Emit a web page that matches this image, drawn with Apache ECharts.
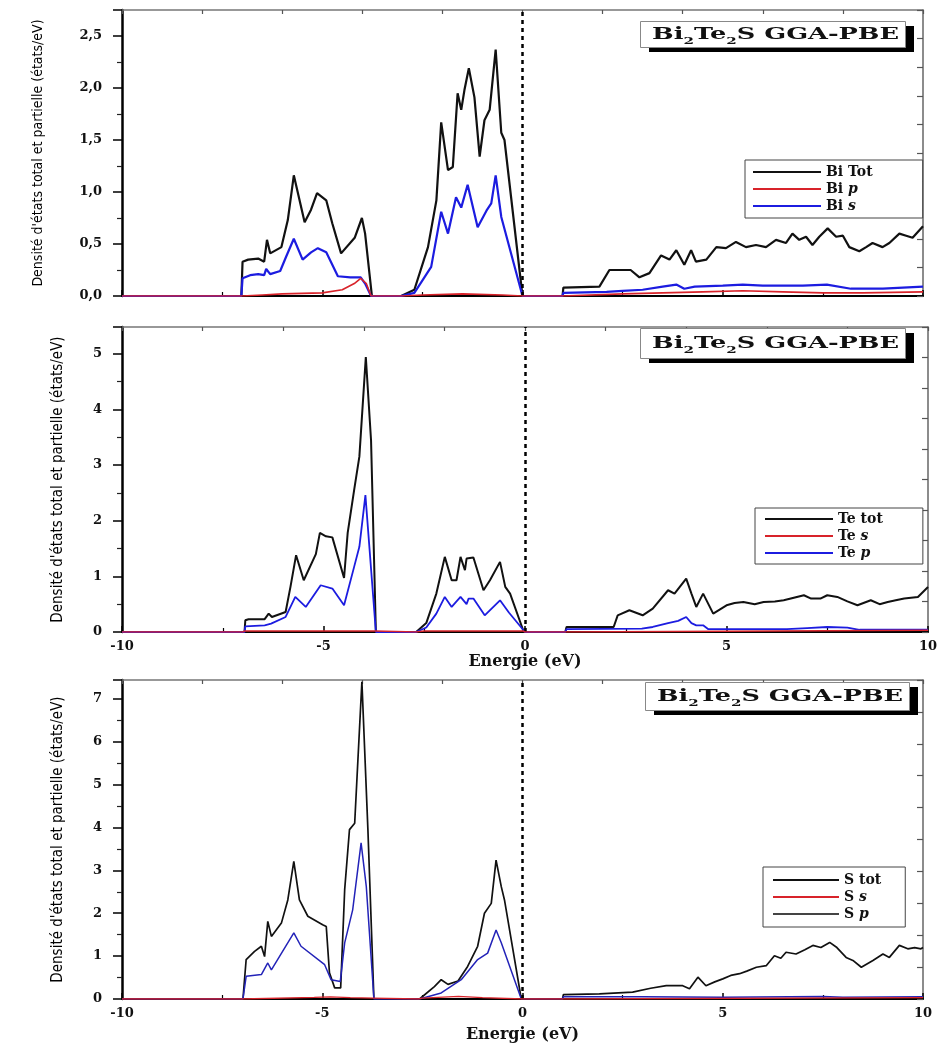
<!DOCTYPE html>
<html><head><meta charset="utf-8">
<script src="https://cdn.jsdelivr.net/npm/echarts@6/dist/echarts.min.js"></script>
<style>html,body{margin:0;padding:0;background:#fff}#c{width:945px;height:1045px}</style>
</head><body><div id="c"></div>
<script>
// ---------- data (energy in eV, DOS in states/eV) ----------
const biTot = [[-10,0],[-7.02,0],[-6.99,0.33],[-6.85,0.35],[-6.6,0.36],[-6.45,0.33],[-6.38,0.54],[-6.3,0.41],[-6.02,0.47],[-5.86,0.73],[-5.71,1.16],[-5.44,0.71],[-5.28,0.83],[-5.13,0.99],[-4.9,0.92],[-4.75,0.7],[-4.53,0.41],[-4.19,0.56],[-4.01,0.75],[-3.93,0.6],[-3.76,0],[-3.03,0],[-2.7,0.06],[-2.36,0.47],[-2.15,0.92],[-2.03,1.67],[-1.86,1.21],[-1.74,1.24],[-1.62,1.95],[-1.53,1.79],[-1.45,1.98],[-1.34,2.19],[-1.2,1.91],[-1.07,1.34],[-0.95,1.69],[-0.82,1.79],[-0.67,2.37],[-0.53,1.57],[-0.45,1.5],[0,0],[1.0,0],[1.02,0.08],[1.92,0.09],[2.17,0.25],[2.7,0.25],[2.92,0.18],[3.17,0.22],[3.46,0.39],[3.67,0.35],[3.84,0.44],[4.04,0.3],[4.21,0.44],[4.33,0.33],[4.59,0.35],[4.84,0.47],[5.08,0.46],[5.33,0.52],[5.58,0.47],[5.83,0.49],[6.08,0.47],[6.33,0.54],[6.58,0.51],[6.74,0.6],[6.91,0.54],[7.08,0.57],[7.24,0.49],[7.41,0.57],[7.62,0.65],[7.83,0.57],[8.0,0.58],[8.16,0.47],[8.41,0.43],[8.58,0.47],[8.74,0.51],[8.99,0.47],[9.16,0.51],[9.41,0.6],[9.58,0.58],[9.74,0.56],[10,0.67]];
const biP = [[-10,0],[-7.0,0],[-6.5,0.01],[-6.0,0.02],[-5.0,0.03],[-4.5,0.06],[-4.2,0.12],[-4.04,0.17],[-3.9,0.12],[-3.78,0],[-3.0,0],[-2.5,0.01],[-1.5,0.02],[-0.5,0.01],[0,0],[1.0,0],[1.02,0.01],[2.5,0.02],[3.5,0.03],[4.5,0.04],[5.5,0.05],[6.5,0.04],[7.5,0.03],[8.5,0.03],[10,0.04]];
const biS = [[-10,0],[-7.02,0],[-6.99,0.17],[-6.8,0.2],[-6.6,0.21],[-6.45,0.2],[-6.4,0.26],[-6.3,0.21],[-6.05,0.24],[-5.9,0.38],[-5.71,0.55],[-5.49,0.35],[-5.28,0.42],[-5.11,0.46],[-4.9,0.42],[-4.61,0.19],[-4.3,0.18],[-4.04,0.18],[-3.93,0.12],[-3.78,0],[-3.03,0],[-2.7,0.03],[-2.28,0.28],[-2.03,0.81],[-1.86,0.6],[-1.66,0.95],[-1.53,0.85],[-1.37,1.07],[-1.12,0.66],[-0.9,0.82],[-0.78,0.89],[-0.67,1.16],[-0.53,0.76],[0,0],[1.0,0],[1.02,0.03],[2.1,0.04],[2.5,0.05],[3.0,0.06],[3.5,0.09],[3.84,0.11],[4.04,0.07],[4.3,0.09],[5.0,0.1],[5.5,0.11],[6.0,0.1],[7.0,0.1],[7.6,0.11],[8.2,0.07],[9.0,0.07],[9.5,0.08],[10,0.09]];

const teTot = [[-10,0],[-6.96,0],[-6.94,0.21],[-6.86,0.23],[-6.46,0.23],[-6.36,0.33],[-6.28,0.27],[-5.94,0.36],[-5.82,0.81],[-5.68,1.38],[-5.49,0.93],[-5.19,1.4],[-5.09,1.78],[-4.94,1.72],[-4.78,1.7],[-4.49,0.97],[-4.4,1.78],[-4.24,2.55],[-4.11,3.15],[-3.95,4.94],[-3.82,3.44],[-3.7,0],[-2.7,0],[-2.45,0.16],[-2.2,0.69],[-1.99,1.35],[-1.82,0.93],[-1.7,0.93],[-1.6,1.35],[-1.49,1.11],[-1.45,1.32],[-1.28,1.34],[-1.03,0.75],[-0.87,0.93],[-0.62,1.26],[-0.49,0.81],[-0.37,0.69],[-0.03,0],[1.0,0],[1.03,0.09],[2.2,0.09],[2.3,0.3],[2.59,0.39],[2.92,0.3],[3.17,0.42],[3.55,0.75],[3.71,0.69],[4.0,0.96],[4.13,0.69],[4.25,0.45],[4.42,0.69],[4.67,0.33],[5.0,0.48],[5.2,0.52],[5.42,0.54],[5.7,0.5],[5.92,0.54],[6.2,0.55],[6.42,0.57],[6.92,0.66],[7.1,0.6],[7.33,0.6],[7.5,0.66],[7.75,0.63],[8.0,0.55],[8.25,0.48],[8.58,0.57],[8.8,0.5],[9.0,0.54],[9.2,0.57],[9.41,0.6],[9.75,0.63],[10,0.81]];
const teS = [[-10,0],[-7.0,0],[-6.95,0.02],[-3.72,0.02],[-3.7,0],[-2.7,0],[-2.5,0.02],[-0.05,0.02],[0,0],[1.0,0],[1.03,0.02],[10,0.03]];
const teP = [[-10,0],[-6.96,0],[-6.94,0.1],[-6.46,0.12],[-6.3,0.15],[-5.94,0.27],[-5.7,0.63],[-5.44,0.45],[-5.07,0.84],[-4.78,0.78],[-4.49,0.48],[-4.24,1.17],[-4.11,1.53],[-3.96,2.46],[-3.7,0],[-2.7,0],[-2.45,0.08],[-2.2,0.33],[-1.99,0.63],[-1.82,0.45],[-1.6,0.63],[-1.45,0.5],[-1.4,0.6],[-1.28,0.6],[-1.0,0.3],[-0.62,0.57],[-0.4,0.35],[0,0],[1.0,0],[1.03,0.05],[2.9,0.06],[3.17,0.09],[3.55,0.16],[3.8,0.2],[4.0,0.27],[4.13,0.16],[4.25,0.12],[4.42,0.12],[4.55,0.05],[5.5,0.05],[6.5,0.05],[7.0,0.07],[7.5,0.09],[8.0,0.08],[8.3,0.04],[10,0.04]];

const sTot = [[-10,0],[-6.98,0],[-6.9,0.92],[-6.69,1.11],[-6.52,1.23],[-6.44,0.99],[-6.36,1.81],[-6.27,1.46],[-6.02,1.77],[-5.86,2.31],[-5.71,3.21],[-5.57,2.31],[-5.36,1.93],[-4.99,1.73],[-4.9,1.69],[-4.82,0.61],[-4.69,0.26],[-4.54,0.26],[-4.44,2.55],[-4.32,3.95],[-4.19,4.1],[-4.01,7.4],[-3.86,3.95],[-3.71,0],[-2.57,0],[-2.2,0.29],[-2.03,0.45],[-1.86,0.34],[-1.61,0.42],[-1.37,0.76],[-1.12,1.23],[-0.95,2.0],[-0.78,2.23],[-0.66,3.24],[-0.53,2.62],[-0.45,2.31],[-0.03,0],[1.0,0],[1.02,0.1],[1.92,0.12],[2.75,0.16],[3.2,0.25],[3.59,0.31],[4.0,0.31],[4.17,0.24],[4.38,0.51],[4.58,0.31],[4.8,0.4],[5.0,0.47],[5.2,0.55],[5.42,0.59],[5.6,0.65],[5.84,0.74],[6.09,0.78],[6.29,1.01],[6.45,0.95],[6.58,1.09],[6.83,1.05],[7.05,1.15],[7.25,1.25],[7.45,1.2],[7.67,1.32],[7.85,1.2],[8.08,0.97],[8.25,0.9],[8.46,0.74],[8.75,0.9],[9.0,1.05],[9.16,0.97],[9.41,1.25],[9.62,1.17],[9.79,1.2],[9.95,1.17],[10,1.2]];
const sS = [[-10,0],[-7.0,0],[-6.98,0.02],[-5.2,0.04],[-4.8,0.05],[-4.3,0.03],[-3.72,0.02],[-3.7,0],[-2.6,0],[-2.5,0.02],[-1.6,0.06],[-1.0,0.03],[0,0],[1.0,0],[1.02,0.02],[10,0.03]];
const sP = [[-10,0],[-6.98,0],[-6.9,0.53],[-6.52,0.57],[-6.36,0.84],[-6.27,0.68],[-5.71,1.54],[-5.53,1.23],[-4.94,0.8],[-4.78,0.45],[-4.55,0.41],[-4.44,1.31],[-4.24,2.08],[-4.03,3.64],[-3.9,2.62],[-3.71,0],[-2.57,0],[-2.03,0.14],[-1.53,0.45],[-1.12,0.92],[-0.87,1.07],[-0.66,1.61],[-0.53,1.31],[-0.03,0],[1.0,0],[1.02,0.05],[3.0,0.05],[5.0,0.04],[7.5,0.06],[8.0,0.04],[10,0.05]];

const seriesNames = [['Bi Tot','Bi p','Bi s'],['Te tot','Te s','Te p'],['S tot','S s','S p']];
const seriesData = [[biTot,biP,biS],[teTot,teS,teP],[sTot,sS,sP]];
const yMaxes = [2.75, 5.48, 7.44];
const yIntervals = [0.5, 1, 1];
const xMin = -10, xMax = 10, xInterval = 5;
const yName = "Densité d'états total et partielle (états/eV)";
const xName = 'Energie (eV)';

// ---------- layout / style ----------
const SERIF = "'DejaVu Serif','Liberation Serif',serif";
const NARROW = "'Liberation Sans Narrow','DejaVu Sans Condensed','Roboto Condensed','Liberation Sans',sans-serif";
const layout = [
  {grid:{left:122,top:10,width:801,height:286}, showX:false, yGap:77, yFont:14,
   colors:['#111','#d8232a','#1c1ce0'], widths:[2.2,1.6,2.2], legend:{left:745,top:160,pad:[5,50,5,8],iw:68}, box:{x:640,y:21,w:265,h:26}},
  {grid:{left:122,top:327,width:806,height:305}, showX:true, yGap:56, yFont:15,
   colors:['#111','#d8232a','#1c1ce0'], widths:[2.0,1.5,1.8], legend:{left:755,top:508,pad:[4,40,4,10],iw:68}, box:{x:640,y:328,w:265,h:30}},
  {grid:{left:122,top:680,width:801,height:319}, showX:true, yGap:56, yFont:15,
   colors:['#111','#d8232a','#2323b8'], widths:[1.7,1.3,1.5], legend:{left:763,top:867,pad:[6,24,6,10],iw:66}, box:{x:645,y:682,w:264,h:28}}
];

const grid = [], xAxis = [], yAxis = [], series = [], legend = [], graphic = [];
layout.forEach((L, i) => {
  grid.push(Object.assign({outerBoundsMode:'none', containLabel:false}, L.grid));
  xAxis.push({type:'value', gridIndex:i, position:'bottom', min:xMin, max:xMax, interval:xInterval,
    axisLine:{show:true, onZero:false, lineStyle:{color:'#000', width:2}},
    axisTick:{show:true, inside:true, length:6, lineStyle:{color:'#000', width:1.5}},
    minorTick:{show:true, splitNumber:2, length:4, lineStyle:{color:'#000', width:1.2}},
    splitLine:{show:false}, minorSplitLine:{show:false},
    axisLabel:{show:L.showX, margin:8, color:'#111', fontFamily:SERIF, fontWeight:'bold', fontSize:13,
      formatter:v => String(v)},
    name: L.showX ? xName : '', nameLocation:'middle', nameGap: i===1 ? 22 : 28,
    nameTextStyle:{fontFamily:SERIF, fontWeight:'bold', fontSize:16, color:'#111'}
  });
  xAxis.push({type:'value', gridIndex:i, position:'top', min:xMin, max:xMax, interval:2,
    axisLine:{show:true, onZero:false, lineStyle:{color:'#777', width:1.5}},
    axisTick:{show:true, inside:true, length:4, lineStyle:{color:'#555', width:1.2}},
    splitLine:{show:false}, axisLabel:{show:false}
  });
  yAxis.push({type:'value', gridIndex:i, position:'left', min:0, max:yMaxes[i], interval:yIntervals[i],
    axisLine:{show:true, onZero:false, lineStyle:{color:'#000', width:2.5}},
    axisTick:{show:true, inside:false, length:9, lineStyle:{color:'#000', width:1.5}},
    minorTick:{show:true, splitNumber:2, length:5, lineStyle:{color:'#222', width:1.2}},
    splitLine:{show:false}, minorSplitLine:{show:false},
    axisLabel:{show:true, margin:20, showMaxLabel:false, color:'#111', fontFamily:SERIF, fontWeight:'bold', fontSize:13,
      formatter:v => {
        const k = v / yIntervals[i];
        if (Math.abs(k - Math.round(k)) > 1e-6) return '';
        return i===0 ? v.toFixed(1).replace('.', ',') : String(Math.round(v));
      }},
    name:yName, nameLocation:'middle', nameGap:L.yGap, nameRotate:90,
    nameTextStyle:{fontFamily:NARROW, fontSize:L.yFont, color:'#000'}
  });
  yAxis.push({type:'value', gridIndex:i, position:'right', min:0, max:10, interval:1,
    axisLine:{show:true, onZero:false, lineStyle:{color:'#666', width:1.5}},
    axisTick:{show:true, inside:true, length:6, lineStyle:{color:'#555', width:1.2}},
    splitLine:{show:false}, axisLabel:{show:false}
  });
  const zOrder = [3, 5, 4];
  seriesNames[i].forEach((nm, j) => {
    const s = {type:'line', name:nm, xAxisIndex:2*i, yAxisIndex:2*i, data:seriesData[i][j],
      symbol:'none', showSymbol:false, smooth:false, animation:false, z:zOrder[j],
      lineStyle:{color:L.colors[j], width:L.widths[j]}, itemStyle:{color:L.colors[j]}};
    if (j === 0) {
      s.markLine = {silent:true, symbol:['none','none'], animation:false, label:{show:false},
        lineStyle:{color:'#000', type:[4,4], width:2.5}, data:[{xAxis:0}]};
    }
    series.push(s);
  });
  const legData = seriesNames[i].map((nm, j) => (i===2 && j===2) ?
     {name:nm, itemStyle:{color:'#444'}} : {name:nm});
  legend.push({data:legData, orient:'vertical', left:L.legend.left, top:L.legend.top,
    icon:'rect', itemWidth:L.legend.iw, itemHeight:2, itemGap:3, padding:L.legend.pad,
    borderColor:'#444', borderWidth:1, backgroundColor:'#fff', borderRadius:0,
    selectedMode:false,
    formatter: nm => nm.replace(/ ([ps])$/, ' {i|$1}'),
    textStyle:{fontFamily:SERIF, fontWeight:'bold', fontSize:14, color:'#111',
      rich:{i:{fontFamily:SERIF, fontWeight:'bold', fontStyle:'italic', fontSize:14, color:'#111'}}}
  });
  const B = L.box;
  const ctx = document.createElement('canvas').getContext('2d');
  ctx.font = "bold 17px 'DejaVu Serif'"; const wMain = ctx.measureText('BiTeS GGA-PBE').width;
  ctx.font = "bold 10px 'DejaVu Serif'"; const wSub = 2 * ctx.measureText('2').width;
  const sx = (B.w - 18) / (wMain + wSub);
  graphic.push({type:'rect', left:B.x + 9, top:B.y + 5, shape:{width:B.w, height:B.h}, style:{fill:'#000'}, z:10});
  graphic.push({type:'rect', left:B.x, top:B.y, shape:{width:B.w, height:B.h}, style:{fill:'#fff', stroke:'#888', lineWidth:1}, z:11});
  graphic.push({type:'text', x:B.x + 12, y:B.y + B.h/2 + 1, scaleX:sx, z:12,
    style:{text:'{b|Bi}{s|2}{b|Te}{s|2}{b|S GGA-PBE}', align:'left', verticalAlign:'middle',
      rich:{b:{font:"bold 17px 'DejaVu Serif'", fill:'#111', lineHeight:22},
            s:{font:"bold 10px 'DejaVu Serif'", fill:'#111', verticalAlign:'bottom', lineHeight:22}}}});
});

const chart = echarts.init(document.getElementById('c'), null, {renderer:'canvas'});
chart.setOption({backgroundColor:'#fff', animation:false, grid, xAxis, yAxis, series, legend, graphic});
</script>
</body></html>
